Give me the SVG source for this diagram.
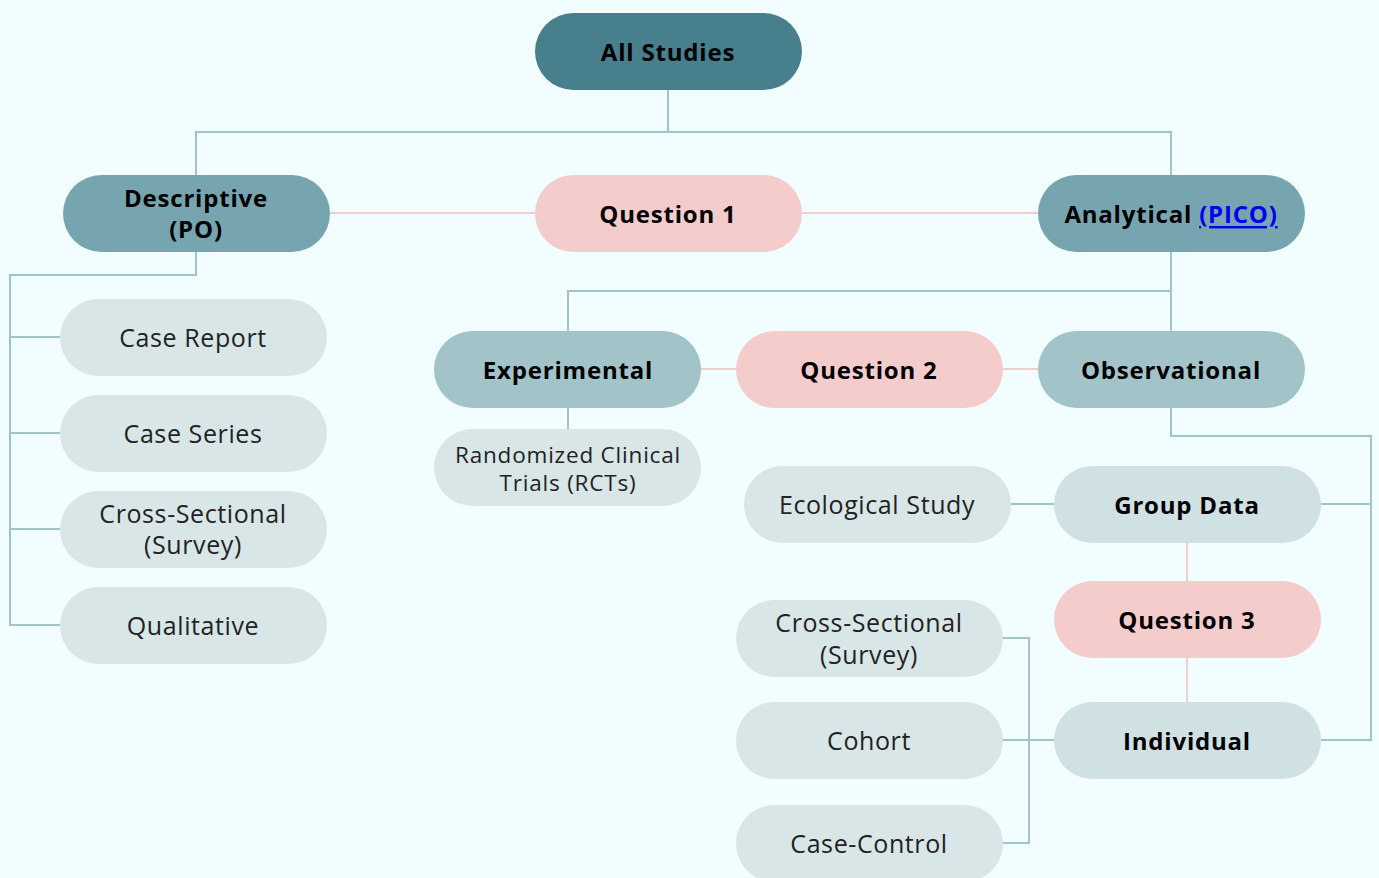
<svg xmlns="http://www.w3.org/2000/svg" width="1379" height="878" viewBox="0 0 1379 878">
  <style>
    .pill { stroke: none; }
    .dark { fill: #477f8c; }
    .mid { fill: #76a5af; }
    .soft { fill: #a2c4c9; }
    .pale { fill: #d0e1e4; }
    .leaf { fill: #d8e6e8; }
    .q { fill: #f4cccc; }
    .bold { font-family: "Open Sans", Lato, sans-serif; font-weight: 700; font-size: 24px; letter-spacing: 0.8px; fill: #000; text-anchor: middle; dominant-baseline: central; }
    .reg { font-family: "Open Sans", Lato, sans-serif; font-weight: 400; font-size: 25px; letter-spacing: 0.6px; fill: #222; text-anchor: middle; dominant-baseline: central; }
    .small { font-size: 22.5px; letter-spacing: 0.8px; }
    .link { fill: #0000ee; text-decoration: underline; }
    .tree { fill: none; stroke: #a2c4c9; stroke-width: 2; }
    .qline { fill: none; stroke: #f4cccc; stroke-width: 2; }
  </style>
  <rect width="1379" height="878" fill="#f1fdfe"/>

  <g id="connectors">
    <!-- main split -->
    <path class="tree" d="M668 90 V132 M196 175 V132 H1171 V175"/>
    <path class="qline" d="M330 213 H535 M802 213 H1038"/>
    <!-- descriptive branches -->
    <path class="tree" d="M196 252 V275 H10 V625 H60 M10 337 H60 M10 433 H60 M10 529 H60"/>
    <!-- analytical branches -->
    <path class="tree" d="M1171 252 V331 M1171 291 H568 V331"/>
    <path class="qline" d="M701 369 H736 M1003 369 H1038"/>
    <path class="tree" d="M568 408 V429"/>
    <!-- observational branches -->
    <path class="tree" d="M1171 408 V436 H1371 V740 H1321 M1371 504 H1321"/>
    <path class="tree" d="M1054 504 H1011"/>
    <path class="qline" d="M1187 543 V581 M1187 658 V702"/>
    <path class="tree" d="M1054 740 H1029 M1003 638 H1029 V843 H1003 M1029 740 H1003"/>
  </g>

  <g id="all-studies">
    <rect class="pill dark" x="535" y="13" width="267" height="77" rx="38.5"/>
    <text class="bold" x="668" y="51">All Studies</text>
  </g>
  <g id="descriptive">
    <rect class="pill mid" x="63" y="175" width="267" height="77" rx="38.5"/>
    <text class="bold" x="196" y="197">Descriptive</text>
    <text class="bold" x="196" y="228">(PO)</text>
  </g>
  <g id="question-1">
    <rect class="pill q" x="535" y="175" width="267" height="77" rx="38.5"/>
    <text class="bold" x="668" y="213">Question 1</text>
  </g>
  <g id="analytical">
    <rect class="pill mid" x="1038" y="175" width="267" height="77" rx="38.5"/>
    <text class="bold" x="1171" y="213">Analytical <tspan class="link">(PICO)</tspan></text>
  </g>

  <g id="case-report">
    <rect class="pill leaf" x="60" y="299" width="267" height="77" rx="38.5"/>
    <text class="reg" x="193" y="337">Case Report</text>
  </g>
  <g id="case-series">
    <rect class="pill leaf" x="60" y="395" width="267" height="77" rx="38.5"/>
    <text class="reg" x="193" y="433">Case Series</text>
  </g>
  <g id="cross-sectional-left">
    <rect class="pill leaf" x="60" y="491" width="267" height="77" rx="38.5"/>
    <text class="reg" x="193" y="513">Cross-Sectional</text>
    <text class="reg" x="193" y="544">(Survey)</text>
  </g>
  <g id="qualitative">
    <rect class="pill leaf" x="60" y="587" width="267" height="77" rx="38.5"/>
    <text class="reg" x="193" y="625">Qualitative</text>
  </g>

  <g id="experimental">
    <rect class="pill soft" x="434" y="331" width="267" height="77" rx="38.5"/>
    <text class="bold" x="568" y="369">Experimental</text>
  </g>
  <g id="question-2">
    <rect class="pill q" x="736" y="331" width="267" height="77" rx="38.5"/>
    <text class="bold" x="869" y="369">Question 2</text>
  </g>
  <g id="observational">
    <rect class="pill soft" x="1038" y="331" width="267" height="77" rx="38.5"/>
    <text class="bold" x="1171" y="369">Observational</text>
  </g>
  <g id="rct">
    <rect class="pill leaf" x="434" y="429" width="267" height="77" rx="38.5"/>
    <text class="reg small" x="568" y="454">Randomized Clinical</text>
    <text class="reg small" x="568" y="482">Trials (RCTs)</text>
  </g>

  <g id="ecological-study">
    <rect class="pill leaf" x="744" y="466" width="267" height="77" rx="38.5"/>
    <text class="reg" x="877" y="504">Ecological Study</text>
  </g>
  <g id="group-data">
    <rect class="pill pale" x="1054" y="466" width="267" height="77" rx="38.5"/>
    <text class="bold" x="1187" y="504">Group Data</text>
  </g>
  <g id="question-3">
    <rect class="pill q" x="1054" y="581" width="267" height="77" rx="38.5"/>
    <text class="bold" x="1187" y="619">Question 3</text>
  </g>
  <g id="individual">
    <rect class="pill pale" x="1054" y="702" width="267" height="77" rx="38.5"/>
    <text class="bold" x="1187" y="740">Individual</text>
  </g>

  <g id="cross-sectional-right">
    <rect class="pill leaf" x="736" y="600" width="267" height="77" rx="38.5"/>
    <text class="reg" x="869" y="622">Cross-Sectional</text>
    <text class="reg" x="869" y="654">(Survey)</text>
  </g>
  <g id="cohort">
    <rect class="pill leaf" x="736" y="702" width="267" height="77" rx="38.5"/>
    <text class="reg" x="869" y="740">Cohort</text>
  </g>
  <g id="case-control">
    <rect class="pill leaf" x="736" y="805" width="267" height="77" rx="38.5"/>
    <text class="reg" x="869" y="843">Case-Control</text>
  </g>
</svg>
